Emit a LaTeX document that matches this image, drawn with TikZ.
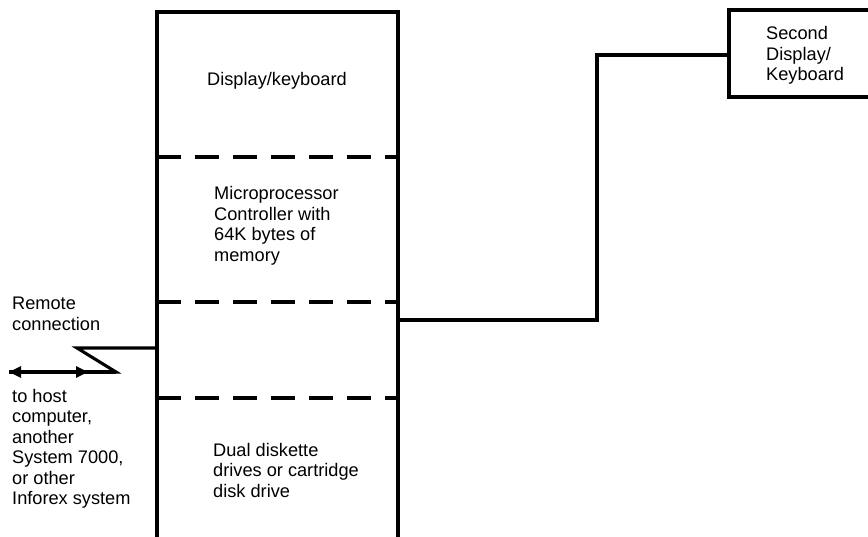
\documentclass[tikz,border=0pt]{standalone}
\usepackage{fontspec}
\setmainfont{Liberation Sans}
\usetikzlibrary{arrows.meta}
\begin{document}
\begin{tikzpicture}[x=1pt,y=-1pt,
  outline/.style={line width=3.1pt, line cap=rect},
  wire/.style={line width=3.1pt},
  sepline/.style={line width=3.1pt, dash pattern=on 24pt off 14pt},
  lbl/.style={anchor=base west, align=left, inner sep=0pt, font=\fontsize{18.2}{20.5}\selectfont},
  head/.style={-{Triangle[length=12pt,width=11pt]}}]
\useasboundingbox (0,0) rectangle (868,537);
% main unit (open at the bottom)
\coordinate (mTL) at (157,12);
\coordinate (mTR) at (398,12);
\coordinate (mBL) at (157,545);
\coordinate (mBR) at (398,545);
\draw[outline] (mBL) -- (mTL) -- (mTR) -- (mBR);
% section separators
\coordinate (s1a) at (157,157); \coordinate (s1b) at (398,157);
\coordinate (s2a) at (157,302); \coordinate (s2b) at (398,302);
\coordinate (s3a) at (157,398); \coordinate (s3b) at (398,398);
\draw[sepline] (s1a) -- (s1b);
\draw[sepline] (s2a) -- (s2b);
\draw[sepline] (s3a) -- (s3b);
% second display box (open at the right)
\coordinate (dT) at (870,10);
\coordinate (dTL) at (729,10);
\coordinate (dBL) at (729,97);
\coordinate (dB) at (870,97);
\draw[outline] (dT) -- (dTL) -- (dBL) -- (dB);
% texts (anchor = baseline of the last line)
\node[lbl] (tdisp) at (207,86) {Display/keyboard};
\node[lbl] (tmicro) at (214,261.5) {Microprocessor\\Controller with\\64K bytes of\\memory};
\node[lbl] (tdual) at (213,497) {Dual diskette\\drives or cartridge\\disk drive};
\node[lbl] (tremote) at (12,330.5) {Remote\\connection};
\node[lbl] (thost) at (12,504.5) {to host\\computer,\\another\\System 7000,\\or other\\Inforex system};
\node[lbl] (tsecond) at (766,81) {Second\\Display/\\Keyboard};
% connector to second display
\coordinate (cA) at (398,320);
\coordinate (cB) at (597,320);
\coordinate (cC) at (597,55);
\coordinate (cD) at (729,55);
\draw[wire] (cA) -- (cB) -- (cC) -- (cD);
% remote connection
\coordinate (rA) at (157,348);
\coordinate (rB) at (77,348);
\coordinate (rC) at (116,372);
\coordinate (rM) at (88,372);
\coordinate (rE) at (9,372);
\draw[wire, line join=miter] (rA) -- (rB) -- (rC) -- (rE);
\draw[wire, head] (rC) -- (rE);
\draw[wire, head] (rE) -- (rM);
\end{tikzpicture}
\end{document}
